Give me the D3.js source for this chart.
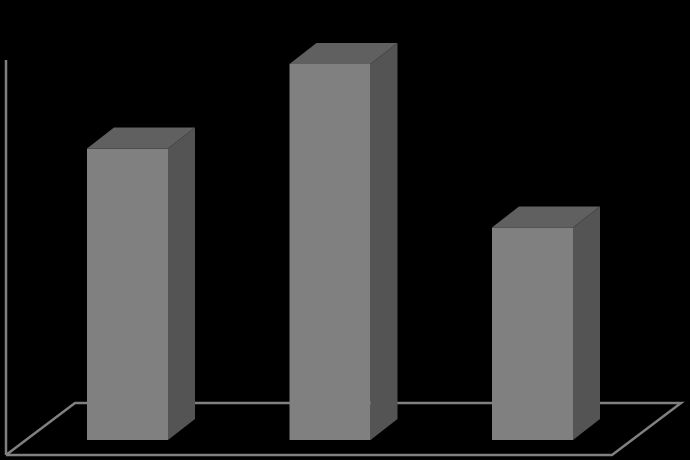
<!DOCTYPE html>
<html>
<head>
<meta charset="utf-8">
<script src="https://cdn.jsdelivr.net/npm/d3@7"></script>
<style>
html, body { margin: 0; padding: 0; background: #000; }
svg { display: block; }
</style>
</head>
<body>
<div class="canva"></div>
<script>
// values, the chart has no labels
const categories = ["A", "B", "C"];
const values = [3.1, 4.0, 2.26];

const width = 690, height = 460;
const depthX = 27, depthY = 21;

const svg = d3.select(".canva").append("svg")
  .attr("width", width)
  .attr("height", height);

const x = d3.scaleBand()
  .domain(categories)
  .range([26.25, 633.75])
  .paddingInner(0.6)
  .paddingOuter(0.3);

const y = d3.scaleLinear()
  .domain([0, 4])
  .range([440, 64]);

const floorY = y(0) + 15;
const floorL = 6, floorR = 612;
const wall = "#808080";

// floor
svg.append("path")
  .attr("d", d3.line()([
    [floorL, floorY],
    [floorR, floorY],
    [floorR + 69, floorY - 52],
    [floorL + 69, floorY - 52],
    [floorL, floorY]
  ]))
  .attr("fill", "none")
  .attr("stroke", wall)
  .attr("stroke-width", 2.5);

// value axis, only the line
svg.append("line")
  .attr("x1", floorL)
  .attr("x2", floorL)
  .attr("y1", floorY)
  .attr("y2", y(4) - 4)
  .attr("stroke", wall)
  .attr("stroke-width", 2.5);

const bars = svg.selectAll("g.bar")
  .data(values)
  .join("g")
  .attr("class", "bar");

const px = (d, i) => x(categories[i]);
const bw = x.bandwidth();

// top
bars.append("path")
  .attr("fill", "#606060")
  .attr("d", (d, i) => d3.line()([
    [px(d, i), y(d)],
    [px(d, i) + depthX, y(d) - depthY],
    [px(d, i) + bw + depthX, y(d) - depthY],
    [px(d, i) + bw, y(d)]
  ]) + "Z");

// side
bars.append("path")
  .attr("fill", "#545454")
  .attr("d", (d, i) => d3.line()([
    [px(d, i) + bw, y(d)],
    [px(d, i) + bw + depthX, y(d) - depthY],
    [px(d, i) + bw + depthX, y(0) - depthY],
    [px(d, i) + bw, y(0)]
  ]) + "Z");

// front
bars.append("rect")
  .attr("fill", "#808080")
  .attr("x", (d, i) => px(d, i))
  .attr("y", d => y(d))
  .attr("width", bw)
  .attr("height", d => y(0) - y(d));
</script>
</body>
</html>
